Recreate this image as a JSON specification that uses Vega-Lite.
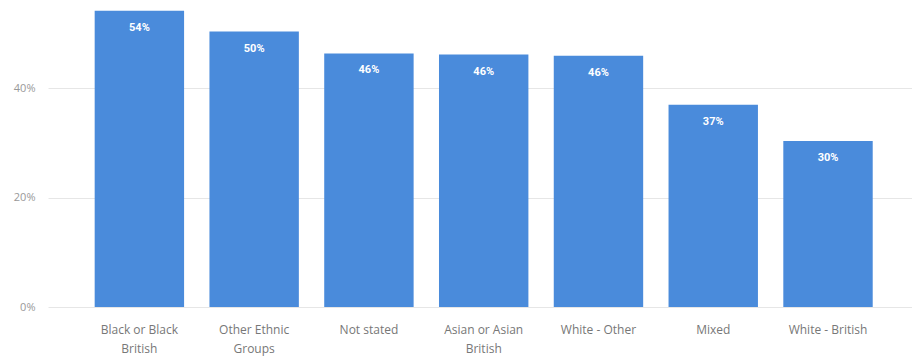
{
  "$schema": "https://vega.github.io/schema/vega-lite/v6.json",
  "width": 864,
  "height": 306,
  "autosize": "none",
  "padding": {"left": 48, "top": 1, "right": 0, "bottom": 51},
  "config": {
    "view": {"stroke": null},
    "font": "Open Sans"
  },
  "data": {
    "values": [
      {"group": "Black or Black British", "share": 0.542},
      {"group": "Other Ethnic Groups", "share": 0.504},
      {"group": "Not stated", "share": 0.464},
      {"group": "Asian or Asian British", "share": 0.462},
      {"group": "White - Other", "share": 0.460},
      {"group": "Mixed", "share": 0.370},
      {"group": "White - British", "share": 0.304}
    ]
  },
  "encoding": {
    "x": {
      "field": "group",
      "type": "nominal",
      "sort": null,
      "scale": {"paddingInner": 0.221, "paddingOuter": 0.3745, "align": 0.543},
      "axis": {
        "title": null,
        "labelAngle": 0,
        "domain": false,
        "ticks": false,
        "labelPadding": 17,
        "labelFontSize": 12,
        "labelColor": "#777777",
        "labelLineHeight": 19,
        "labelExpr": "datum.label == 'Black or Black British' ? ['Black or Black', 'British'] : datum.label == 'Other Ethnic Groups' ? ['Other Ethnic', 'Groups'] : datum.label == 'Asian or Asian British' ? ['Asian or Asian', 'British'] : datum.label"
      }
    },
    "y": {
      "field": "share",
      "type": "quantitative",
      "scale": {"domain": [0, 0.56], "nice": false},
      "axis": {
        "title": null,
        "values": [0, 0.2, 0.4],
        "format": ".0%",
        "domain": false,
        "ticks": false,
        "labelPadding": 13,
        "labelFontSize": 11,
        "labelColor": "#999999",
        "gridColor": "#e6e6e6",
        "gridWidth": 1
      }
    }
  },
  "layer": [
    {
      "mark": {"type": "bar", "color": "#4A8BDB"}
    },
    {
      "mark": {
        "type": "text",
        "baseline": "middle",
        "dy": 17,
        "color": "white",
        "fontWeight": "bold",
        "fontSize": 11,
        "font": "Roboto"
      },
      "encoding": {
        "text": {"field": "share", "type": "quantitative", "format": ".0%"}
      }
    }
  ]
}
